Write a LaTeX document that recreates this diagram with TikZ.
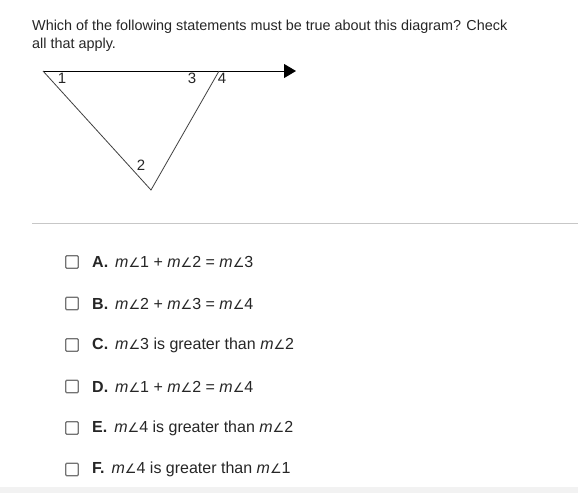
\documentclass[tikz,border=0pt]{standalone}
\usepackage{fontspec}
\setmainfont{Liberation Sans}
\newfontfamily\angfont{DejaVu Sans}
\usetikzlibrary{positioning,arrows.meta}
\newcommand{\mang}[1]{\textit{m}{\angfont\itshape\fontsize{13}{13}\selectfont\char"2220}#1}
\tikzset{
  qtext/.style={anchor=base west,inner sep=0pt,font=\fontsize{14.4}{18}\selectfont,text=black!85},
  numlbl/.style={inner sep=0pt,font=\fontsize{15}{15}\selectfont,text=black!85},
  chkbox/.style={draw=black!55,line width=1.4pt,rounded corners=1pt,minimum size=12.5pt,inner sep=0pt},
  opttext/.style={anchor=west,inner sep=0pt,font=\fontsize{16}{18}\selectfont,text=black!85}
}
\begin{document}
\begin{tikzpicture}[x=1pt,y=-1pt]
   \useasboundingbox (0,0) rectangle (578,493);
   \fill[white] (0,0) rectangle (578,493);
   % question
   \node[qtext] (q1) at (32,30) {Which of the following statements must be true about this diagram? Check};
   \node[qtext] (q2) at (32,48) {all that apply.};
   % diagram
   \coordinate (p1) at (43,71);
   \coordinate (p2) at (151,190);
   \coordinate (p3) at (219,71);
   \coordinate (tip) at (296,71);
   \draw[line width=1pt,-{Triangle[length=12pt,width=14pt]}] (p1) -- (tip);
   \draw[line width=0.8pt,black!75] (p1) -- (p2) -- (p3);
   \node[numlbl] (a1) at (62,78) {1};
   \node[numlbl] (a2) at (141,165) {2};
   \node[numlbl] (a3) at (192,78) {3};
   \node[numlbl] (a4) at (222,78) {4};
   % separator
   \draw[black!22,line width=0.8pt] (32,223) -- (578,223);
   % answers
   \foreach \l/\t [count=\i] in {
      A/{\mang1 + \mang2 = \mang3},
      B/{\mang2 + \mang3 = \mang4},
      C/{\mang3 is greater than \mang2},
      D/{\mang1 + \mang2 = \mang4},
      E/{\mang4 is greater than \mang2},
      F/{\mang4 is greater than \mang1}} {
     \node[chkbox] (box\l) at (72,{262+41.5*(\i-1)}) {};
     \node[opttext] (opt\l) at (92,{262+41.5*(\i-1)}) {\textbf{\l.}\hspace{7pt}\t};
   }
   % bottom band
   \fill[black!5] (0,487) rectangle (578,493);
 \end{tikzpicture}
\end{document}
